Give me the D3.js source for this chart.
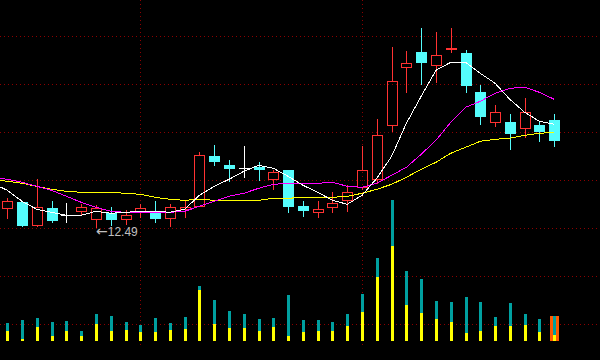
<!DOCTYPE html>
<html><head><meta charset="utf-8">
<script src="https://cdn.jsdelivr.net/npm/d3@7/dist/d3.min.js"></script>
<style>html,body{margin:0;padding:0;background:#000;overflow:hidden}</style>
</head><body>
<svg id="c" width="600" height="360"></svg>
<script>
// ---- data ----
const opens  = [12.68,12.74,12.51,12.68,12.61,12.65,12.57,12.63,12.57,12.64,12.65,12.58,12.67,12.70,13.20,13.11,13.08,13.09,12.97,13.06,12.70,12.64,12.69,12.76,12.89,12.97,13.51,14.09,14.24,14.11,14.27,14.23,13.84,13.54,13.54,13.48,13.51,13.56];
const highs  = [12.78,12.75,12.97,12.75,12.73,12.72,12.71,12.69,12.66,12.72,12.75,12.72,12.75,13.24,13.31,13.16,13.30,13.14,13.06,13.06,12.75,12.75,12.84,12.91,13.30,13.57,14.29,14.25,14.48,14.44,14.48,14.26,13.91,13.71,13.62,13.78,13.54,13.62];
const lows   = [12.58,12.50,12.50,12.54,12.54,12.62,12.49,12.51,12.52,12.59,12.54,12.50,12.59,12.70,13.11,12.95,12.99,12.96,12.87,12.64,12.60,12.59,12.64,12.65,12.87,12.93,13.45,13.84,13.92,13.94,14.24,13.84,13.52,13.50,13.27,13.39,13.35,13.30];
const closes = [12.75,12.51,12.69,12.56,12.61,12.69,12.68,12.57,12.61,12.68,12.58,12.69,12.69,13.21,13.15,13.08,13.08,13.07,13.04,12.70,12.66,12.67,12.73,12.84,13.06,13.41,13.95,14.13,14.14,14.21,14.28,13.91,13.60,13.64,13.43,13.64,13.45,13.36];
// moving averages (first value = bar just before the visible window)
const ma5  = [12.93,12.86,12.75,12.67,12.64,12.61,12.61,12.65,12.63,12.64,12.65,12.65,12.64,12.67,12.81,12.90,12.97,13.05,13.11,13.08,13.00,12.91,12.84,12.76,12.72,12.81,12.98,13.20,13.53,13.80,14.06,14.14,14.14,14.03,13.93,13.77,13.64,13.55,13.52];
const ma10 = [12.99,12.97,12.94,12.90,12.86,12.80,12.74,12.69,12.65,12.64,12.64,12.64,12.64,12.65,12.70,12.75,12.80,12.83,12.88,12.92,12.93,12.93,12.93,12.94,12.90,12.89,12.93,13.01,13.09,13.22,13.36,13.54,13.69,13.75,13.83,13.88,13.89,13.84,13.77];
const ma20 = [12.97,12.95,12.93,12.90,12.87,12.85,12.84,12.84,12.84,12.83,12.82,12.79,12.77,12.76,12.77,12.76,12.76,12.76,12.76,12.78,12.78,12.79,12.79,12.79,12.80,12.83,12.87,12.92,12.99,13.07,13.14,13.23,13.29,13.35,13.37,13.38,13.41,13.43,13.44];
const volumes   = [18000,21000,23000,19000,20000,10000,27000,25000,19000,16000,23000,18000,24000,55000,41000,30000,27000,22000,23000,46000,21000,21000,19000,27000,47000,83000,141000,70000,62000,40000,39000,44000,39000,24000,38000,27000,22000,25000];
const volumesIn = [10000,2000,14000,5000,10000,5000,17000,10000,11000,9000,9000,11000,12000,51000,17000,13000,13000,10000,14000,5000,9000,10000,10000,15000,29000,64000,95000,36000,28000,22000,19000,8000,10000,15000,15000,16000,9000,6000];
const gridBars = [9, 24];

// ---- drawing ----
const W = 600, H = 360;
const RED = "#ff3232", CYAN = "#54fcfc", WHITE = "#ffffff";
const svg = d3.select("#c");
svg.append("rect").attr("width", W).attr("height", H).attr("fill", "#000");

const n = closes.length;
const x = d3.scaleLinear().domain([0, n - 1]).range([7.3, 554.2]);
const y = d3.scaleLinear().domain([12.49, 14.49]).range([227.3, 27.3]);
const yv = d3.scaleLinear().domain([0, 141000]).range([341, 200]);
const px = i => Math.round(x(i));
const py = v => Math.round(y(v));

// grid
const grid = svg.append("g").attr("stroke", "#8c0000").attr("stroke-width", 1)
  .attr("stroke-dasharray", "1,3").attr("shape-rendering", "crispEdges");
d3.range(36, H, 48).forEach(gy => {
  grid.append("line").attr("x1", 0).attr("x2", W).attr("y1", gy + 0.5).attr("y2", gy + 0.5);
});
gridBars.forEach(i => {
  grid.append("line").attr("x1", px(i) + 0.5).attr("x2", px(i) + 0.5).attr("y1", 0).attr("y2", 346);
});

// volume
const vol = svg.append("g").attr("shape-rendering", "crispEdges");
const last = n - 1;
vol.append("rect").attr("x", px(last) - 4).attr("width", 9)
  .attr("y", Math.round(yv(volumes[last]))).attr("height", 341 - Math.round(yv(volumes[last])))
  .attr("fill", "#ff5a00");
volumes.forEach((v, i) => {
  const t = Math.round(yv(v));
  vol.append("rect").attr("x", px(i) - 1).attr("width", 3).attr("y", t).attr("height", 341 - t).attr("fill", "#00a0a0");
  const t2 = Math.round(yv(volumesIn[i]));
  vol.append("rect").attr("x", px(i) - 1).attr("width", 3).attr("y", t2).attr("height", 341 - t2).attr("fill", "#ffff00");
});

// candles
const cg = svg.append("g").attr("shape-rendering", "crispEdges");
closes.forEach((c, i) => {
  const o = opens[i], cx = px(i) + 0.5;
  const yH = py(highs[i]), yL = py(lows[i]);
  const yTop = py(Math.max(o, c)), yBot = py(Math.min(o, c));
  if (c === o) {
    cg.append("line").attr("x1", cx).attr("x2", cx).attr("y1", yH).attr("y2", yL + 1).attr("stroke", WHITE);
    cg.append("line").attr("x1", px(i) - 5).attr("x2", px(i) + 6).attr("y1", yTop + 0.5).attr("y2", yTop + 0.5).attr("stroke", WHITE);
  } else if (c > o) {
    cg.append("line").attr("x1", cx).attr("x2", cx).attr("y1", yH).attr("y2", yTop).attr("stroke", RED);
    cg.append("line").attr("x1", cx).attr("x2", cx).attr("y1", yBot).attr("y2", yL + 1).attr("stroke", RED);
    cg.append("rect").attr("x", px(i) - 5 + 0.5).attr("width", 10).attr("y", yTop + 0.5)
      .attr("height", Math.max(yBot - yTop, 1)).attr("fill", "none").attr("stroke", RED);
  } else {
    cg.append("line").attr("x1", cx).attr("x2", cx).attr("y1", yH).attr("y2", yL + 1).attr("stroke", CYAN);
    cg.append("rect").attr("x", px(i) - 5).attr("width", 11).attr("y", yTop)
      .attr("height", Math.max(yBot - yTop + 1, 1)).attr("fill", CYAN);
  }
});

// moving averages
const line = d3.line().x(d => d[0]).y(d => d[1]);
function drawMA(arr, color) {
  const pts = arr.map((v, k) => [x(k - 1), y(v)]);
  svg.append("path").attr("d", line(pts)).attr("fill", "none")
    .attr("stroke", color).attr("stroke-width", 1).attr("shape-rendering", "crispEdges");
}
drawMA(ma20, "#ffff00");
drawMA(ma10, "#ff00ff");
drawMA(ma5, "#ffffff");

// lowest price marker
const iMin = d3.minIndex(lows);
const lbl = svg.append("text").attr("x", px(iMin)).attr("y", py(lows[iMin]) + 9)
  .attr("fill", "#c0c0c0").attr("font-family", "Liberation Sans, Arial, sans-serif")
  .attr("font-size", 12);
lbl.append("tspan").attr("font-family", "DejaVu Sans").attr("font-size", 14).text("\u2190");
lbl.append("tspan").text(lows[iMin].toFixed(2));
</script>
</body></html>
